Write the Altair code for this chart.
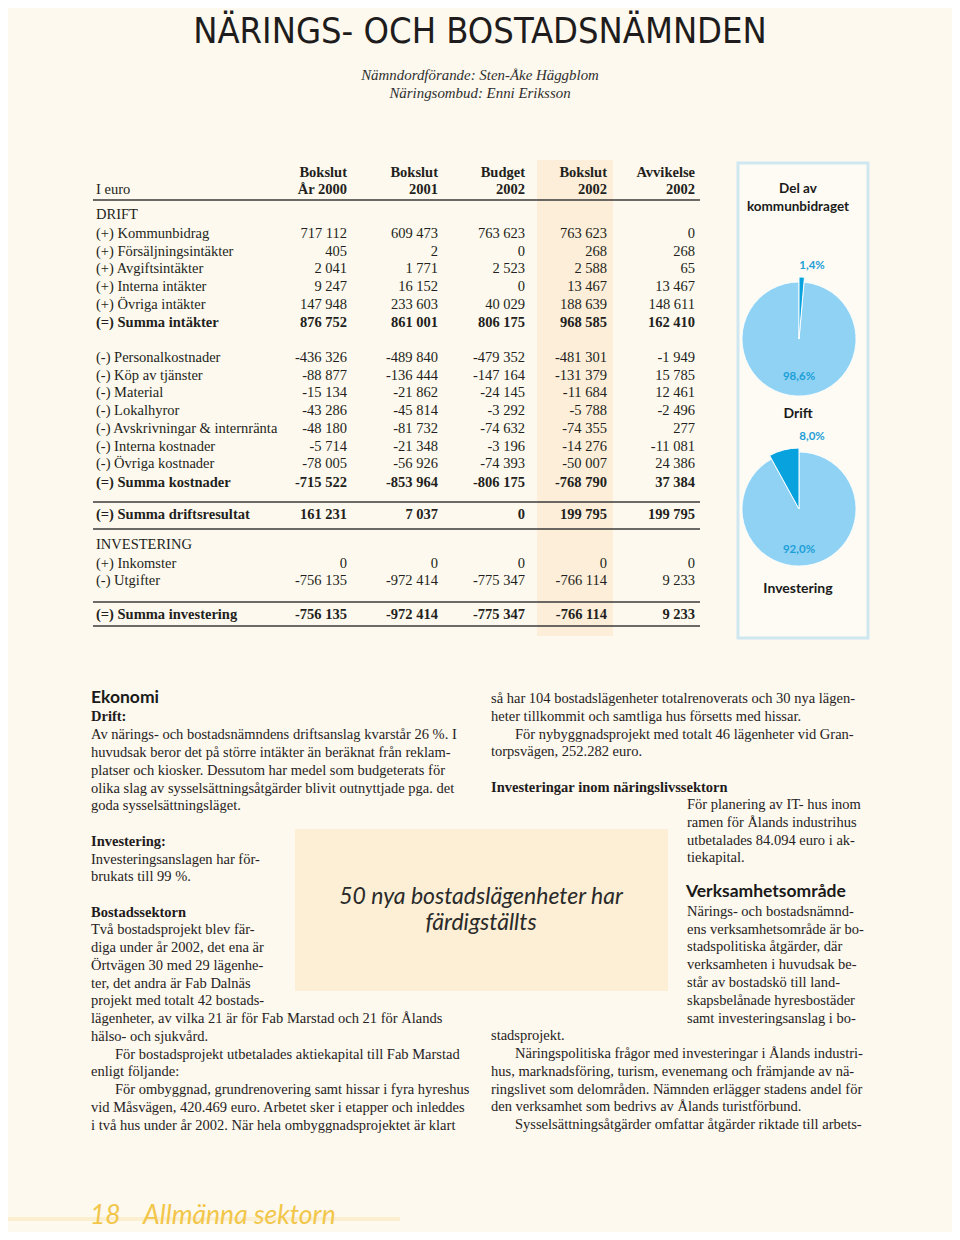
import altair as alt
import pandas as pd

# ---------------- data ----------------
title = "NÄRINGS- OCH BOSTADSNÄMNDEN"
subtitle = ["Nämndordförande: Sten-Åke Häggblom", "Näringsombud: Enni Eriksson"]

col_head_top = ["Bokslut", "Bokslut", "Budget", "Bokslut", "Avvikelse"]
col_head_bottom = ["År 2000", "2001", "2002", "2002", "2002"]

row_labels = [
    "DRIFT", "(+) Kommunbidrag", "(+) Försäljningsintäkter", "(+) Avgiftsintäkter",
    "(+) Interna intäkter", "(+) Övriga intäkter", "(=) Summa intäkter",
    "(-) Personalkostnader", "(-) Köp av tjänster", "(-) Material", "(-) Lokalhyror",
    "(-) Avskrivningar & internränta", "(-) Interna kostnader", "(-) Övriga kostnader",
    "(=) Summa kostnader", "(=) Summa driftsresultat", "INVESTERING",
    "(+) Inkomster", "(-) Utgifter", "(=) Summa investering",
]
bokslut_2000 = [None, 717112, 405, 2041, 9247, 147948, 876752, -436326, -88877, -15134,
                -43286, -48180, -5714, -78005, -715522, 161231, None, 0, -756135, -756135]
bokslut_2001 = [None, 609473, 2, 1771, 16152, 233603, 861001, -489840, -136444, -21862,
                -45814, -81732, -21348, -56926, -853964, 7037, None, 0, -972414, -972414]
budget_2002 = [None, 763623, 0, 2523, 0, 40029, 806175, -479352, -147164, -24145,
               -3292, -74632, -3196, -74393, -806175, 0, None, 0, -775347, -775347]
bokslut_2002 = [None, 763623, 268, 2588, 13467, 188639, 968585, -481301, -131379, -11684,
                -5788, -74355, -14276, -50007, -768790, 199795, None, 0, -766114, -766114]
avvikelse_2002 = [None, 0, 268, 65, 13467, 148611, 162410, -1949, 15785, 12461,
                  -2496, 277, -11081, 24386, 37384, 199795, None, 0, 9233, 9233]

pie_title = ["Del av", "kommunbidraget"]
pie_names = ["Drift", "Investering"]
drift_share = [1.4, 98.6]        # small part, rest
invest_share = [8.0, 92.0]

quote = ["50 nya bostadslägenheter har", "färdigställts"]
footer_num = "18"
footer_text = "Allmänna sektorn"

left_text = [
    ("h", "Ekonomi"),
    ("b", "Drift:"),
    ("p", "Av närings- och bostadsnämndens driftsanslag kvarstår 26 %. I"),
    ("p", "huvudsak beror det på större intäkter än beräknat från reklam-"),
    ("p", "platser och kiosker. Dessutom har medel som budgeterats för"),
    ("p", "olika slag av sysselsättningsåtgärder blivit outnyttjade pga. det"),
    ("p", "goda sysselsättningsläget."),
    ("b", "Investering:"),
    ("p", "Investeringsanslagen har för-"),
    ("p", "brukats till 99 %."),
    ("b", "Bostadssektorn"),
    ("p", "Två bostadsprojekt blev fär-"),
    ("p", "diga under år 2002, det ena är"),
    ("p", "Örtvägen 30 med 29 lägenhe-"),
    ("p", "ter, det andra är Fab Dalnäs"),
    ("p", "projekt med totalt 42 bostads-"),
    ("p", "lägenheter, av vilka 21 är för Fab Marstad och 21 för Ålands"),
    ("p", "hälso- och sjukvård."),
    ("p", "För bostadsprojekt utbetalades aktiekapital till Fab Marstad"),
    ("p", "enligt följande:"),
    ("p", "För ombyggnad, grundrenovering samt hissar i fyra hyreshus"),
    ("p", "vid Måsvägen, 420.469 euro. Arbetet sker i etapper och inleddes"),
    ("p", "i två hus under år 2002. När hela ombyggnadsprojektet är klart"),
]
right_text = [
    ("p", "så har 104 bostadslägenheter totalrenoverats och 30 nya lägen-"),
    ("p", "heter tillkommit och samtliga hus försetts med hissar."),
    ("p", "För nybyggnadsprojekt med totalt 46 lägenheter vid Gran-"),
    ("p", "torpsvägen, 252.282 euro."),
    ("b", "Investeringar inom näringslivssektorn"),
    ("p", "För planering av IT- hus inom"),
    ("p", "ramen för Ålands industrihus"),
    ("p", "utbetalades 84.094 euro i ak-"),
    ("p", "tiekapital."),
    ("h", "Verksamhetsområde"),
    ("p", "Närings- och bostadsnämnd-"),
    ("p", "ens verksamhetsområde är bo-"),
    ("p", "stadspolitiska åtgärder, där"),
    ("p", "verksamheten i huvudsak be-"),
    ("p", "står av bostadskö till land-"),
    ("p", "skapsbelånade hyresbostäder"),
    ("p", "samt investeringsanslag i bo-"),
    ("p", "stadsprojekt."),
    ("p", "Näringspolitiska frågor med investeringar i Ålands industri-"),
    ("p", "hus, marknadsföring, turism, evenemang och främjande av nä-"),
    ("p", "ringslivet som delområden. Nämnden erlägger stadens andel för"),
    ("p", "den verksamhet som bedrivs av Ålands turistförbund."),
    ("p", "Sysselsättningsåtgärder omfattar åtgärder riktade till arbets-"),
]

# ---------------- layout ----------------
W, H = 944, 1224
row_y = [215, 234, 252, 269, 287, 305, 323, 358, 376, 393, 411, 429, 447, 464, 483,
         515, 545, 564, 581, 615]
col_right = [347, 438, 525, 607, 695]
left_pos = [(91, 698), (91, 717), (91, 735), (91, 753), (91, 771), (91, 789), (91, 806),
            (91, 842), (91, 860), (91, 877), (91, 913), (91, 930), (91, 948), (91, 966),
            (91, 984), (91, 1001), (91, 1019), (91, 1037), (115, 1055), (91, 1072),
            (115, 1090), (91, 1108), (91, 1126)]
right_pos = [(491, 699), (491, 717), (515, 735), (491, 752), (491, 788), (687, 805),
             (687, 823), (687, 841), (687, 858), (686, 892), (687, 912), (687, 930),
             (687, 947), (687, 965), (687, 983), (687, 1001), (687, 1019), (491, 1036),
             (515, 1054), (491, 1072), (491, 1090), (491, 1107), (515, 1125)]

BG = "#fdf9ee"
INK = "#231f20"
LIGHT = "#8fd2f3"
DARK = "#08a2df"
LABEL_BLUE = "#1d9fd8"
SERIF = "Liberation Serif"
SANS = "Lato"
TITLE_FONT = "Liberation Sans Narrow, DejaVu Sans Condensed, Roboto Condensed, Liberation Sans"

XS = alt.Scale(domain=[8, 8 + W], range=[0, W], zero=False, nice=False)
YS = alt.Scale(domain=[8, 8 + H], range=[0, H], zero=False, nice=False)


def fmt(v):
    if v is None:
        return ""
    return f"{v:,}".replace(",", " ")


def pct(v):
    return f"{v:.1f}%".replace(".", ",")


def txt(df, font, size, weight="normal", style="normal", color=INK, align="left",
        baseline="middle"):
    return alt.Chart(df).mark_text(
        font=font, fontSize=size, fontWeight=weight, fontStyle=style,
        color=color, align=align, baseline=baseline
    ).encode(
        x=alt.X("x:Q", scale=XS, axis=None),
        y=alt.Y("y:Q", scale=YS, axis=None),
        text="t:N",
    )


def rects(df, fill, stroke=None, sw=0, opacity=1.0):
    kw = dict(fill=fill, opacity=opacity)
    if stroke:
        kw.update(stroke=stroke, strokeWidth=sw)
    return alt.Chart(df).mark_rect(**kw).encode(
        x=alt.X("x:Q", scale=XS, axis=None), x2="x2:Q",
        y=alt.Y("y:Q", scale=YS, axis=None), y2="y2:Q",
    )


layers = []

# background shapes
layers.append(rects(pd.DataFrame({"x": [537], "x2": [613], "y": [160], "y2": [636]}),
                    "#fbead0", opacity=0.7))
layers.append(rects(pd.DataFrame({"x": [295], "x2": [668], "y": [829], "y2": [991]}),
                    "#fcefd5"))
layers.append(rects(pd.DataFrame({"x": [738], "x2": [868], "y": [163], "y2": [638]}),
                    "#fdfbf3", stroke="#cfe7f1", sw=3))

# rules in the table
rules = pd.DataFrame({"x": [93] * 5, "x2": [700] * 5, "y": [200, 502, 529, 602, 626]})
layers.append(alt.Chart(rules).mark_rule(color="#3a3a3a", strokeWidth=1.3).encode(
    x=alt.X("x:Q", scale=XS, axis=None), x2="x2:Q",
    y=alt.Y("y:Q", scale=YS, axis=None)))

# footer glow line
layers.append(alt.Chart(pd.DataFrame({"x": [8], "x2": [400], "y": [1219]})).mark_rule(
    color="#fbefd0", strokeWidth=4).encode(
    x=alt.X("x:Q", scale=XS, axis=None), x2="x2:Q", y=alt.Y("y:Q", scale=YS, axis=None)))

# title and subtitle
layers.append(txt(pd.DataFrame({"x": [480], "y": [43], "t": [title]}),
                  TITLE_FONT, 36, align="center", color="#1e1c1c", baseline="alphabetic"))
layers.append(txt(pd.DataFrame({"x": [480, 480], "y": [76, 94], "t": subtitle}),
                  SERIF, 14.9, style="italic", align="center", color="#2f2f2f"))

# table header
layers.append(txt(pd.DataFrame({"x": [96], "y": [190], "t": ["I euro"]}), SERIF, 14.5))
layers.append(txt(pd.DataFrame({"x": col_right, "y": [173] * 5, "t": col_head_top}),
                  SERIF, 14.5, weight="bold", align="right"))
layers.append(txt(pd.DataFrame({"x": col_right, "y": [190] * 5, "t": col_head_bottom}),
                  SERIF, 14.5, weight="bold", align="right"))

# table body
is_bold = [lab.startswith("(=)") for lab in row_labels]
lab_df = pd.DataFrame({"x": [96] * len(row_labels), "y": row_y, "t": row_labels, "b": is_bold})
layers.append(txt(lab_df[~lab_df.b], SERIF, 14.5))
layers.append(txt(lab_df[lab_df.b], SERIF, 14.5, weight="bold"))
cells = []
for ci, col in enumerate([bokslut_2000, bokslut_2001, budget_2002, bokslut_2002, avvikelse_2002]):
    for ri, v in enumerate(col):
        if v is not None:
            cells.append({"x": col_right[ci], "y": row_y[ri], "t": fmt(v), "b": is_bold[ri]})
cell_df = pd.DataFrame(cells)
layers.append(txt(cell_df[~cell_df.b], SERIF, 14.5, align="right"))
layers.append(txt(cell_df[cell_df.b], SERIF, 14.5, weight="bold", align="right"))


# pies
def pie(values, small_first, cx, cy, r, r_out):
    df = pd.DataFrame({"v": values, "part": ["small", "big"],
                       "ord": [0, 1] if small_first else [1, 0]})
    base = alt.Chart(df).encode(
        theta=alt.Theta("v:Q", stack=True),
        order=alt.Order("ord:Q"),
        color=alt.Color("part:N", scale=alt.Scale(domain=["small", "big"], range=[DARK, LIGHT]),
                        legend=None),
        x=alt.value(cx - 8), y=alt.value(cy - 8),
    )
    a = base.mark_arc(radius=r, stroke="white", strokeWidth=0.8)
    b = base.mark_arc(radius=r_out, stroke="white", strokeWidth=1).encode(
        opacity=alt.condition("datum.part == 'small'", alt.value(1), alt.value(0)))
    return [a, b]


layers += pie(drift_share, True, 799, 339, 57, 62)
layers += pie(invest_share, False, 799, 509, 57, 61)

layers.append(txt(pd.DataFrame({"x": [798, 798], "y": [189, 207], "t": pie_title}),
                  SANS, 13.5, weight="bold", align="center", color="#1a1a1a"))
layers.append(txt(pd.DataFrame({"x": [798, 798], "y": [414, 589], "t": pie_names}),
                  SANS, 14, weight="bold", align="center", color="#1a1a1a"))
layers.append(txt(pd.DataFrame({"x": [812, 799, 812, 799], "y": [266, 377, 437, 550],
                                "t": [pct(drift_share[0]), pct(drift_share[1]),
                                      pct(invest_share[0]), pct(invest_share[1])]}),
                  SANS, 11.5, weight="bold", align="center", color=LABEL_BLUE))

# pull quote
layers.append(txt(pd.DataFrame({"x": [481, 481], "y": [897, 923], "t": quote}),
                  SANS, 23, style="italic", align="center", color="#2a2a2a"))


# body text
def body(items, pos):
    rows = [{"x": p[0], "y": p[1], "t": t, "k": k} for (k, t), p in zip(items, pos)]
    df = pd.DataFrame(rows)
    out = []
    out.append(txt(df[df.k == "p"], SERIF, 14.5, color="#262223"))
    out.append(txt(df[df.k == "b"], SERIF, 14.5, weight="bold", color="#1f1b1c"))
    out.append(txt(df[df.k == "h"], SANS, 17.5, weight="bold", color="#1a1a1a"))
    return out


layers += body(left_text, left_pos)
layers += body(right_text, right_pos)

# footer
layers.append(txt(pd.DataFrame({"x": [90, 143], "y": [1216, 1216], "t": [footer_num, footer_text]}),
                  SANS, 26.5, style="italic", color="#f2c64a"))

chart = alt.layer(*layers).properties(
    width=W, height=H, background=BG, padding=0, autosize="none"
).configure_view(stroke=None)

chart.save("out.html", embed_options={"renderer": "svg", "actions": False})
